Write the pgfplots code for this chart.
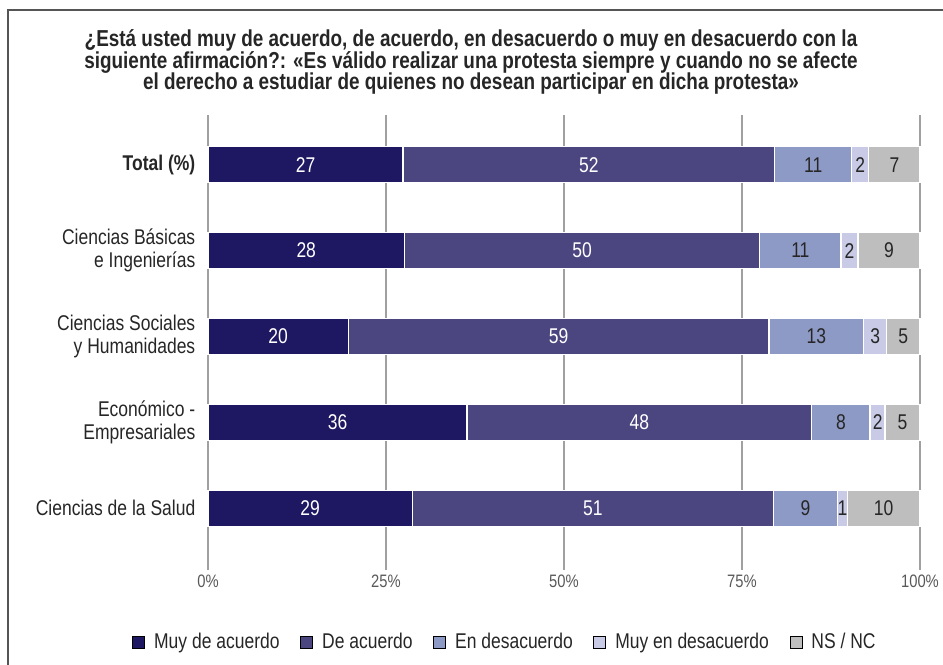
\documentclass[border=0pt]{standalone}
\usepackage{fontspec}
\setmainfont{Liberation Sans}[FakeStretch=0.82]
\usepackage{pgfplots}
\usepackage{pgfplotstable}
\pgfplotsset{compat=1.18}

\definecolor{c1}{HTML}{1E1762}
\definecolor{c2}{HTML}{4B4680}
\definecolor{c3}{HTML}{8E9AC6}
\definecolor{c4}{HTML}{C8CAE6}
\definecolor{c5}{HTML}{BEBEBE}
\definecolor{gridc}{HTML}{A0A0A0}
\definecolor{txt}{HTML}{262626}
\definecolor{tickc}{HTML}{595959}
\definecolor{framec}{HTML}{555555}

% share of each answer (%), one row per group, 0 = total
\pgfplotstableread{
y a    b    c    d   e
0 27.4 52.2 10.8 2.4 7.2
1 27.6 49.9 11.4 2.4 8.7
2 19.7 59.1 13.3 3.2 4.7
3 36.4 48.4 8.2  2.1 4.9
4 28.7 50.7 9.0  1.4 10.2
}\shares
% running totals (bar ends)
\pgfplotstablecreatecol[create col/expr={\thisrow{a}+\thisrow{b}}]{ab}\shares
\pgfplotstablecreatecol[create col/expr={\thisrow{ab}+\thisrow{c}}]{abc}\shares
\pgfplotstablecreatecol[create col/expr={\thisrow{abc}+\thisrow{d}}]{abcd}\shares
\pgfplotstablecreatecol[create col/expr={\thisrow{abcd}+\thisrow{e}}]{abcde}\shares
% middle of each segment, for the labels
\pgfplotstablecreatecol[create col/expr={\thisrow{a}/2}]{ma}\shares
\pgfplotstablecreatecol[create col/expr={\thisrow{a}+\thisrow{b}/2}]{mb}\shares
\pgfplotstablecreatecol[create col/expr={\thisrow{ab}+\thisrow{c}/2}]{mc}\shares
\pgfplotstablecreatecol[create col/expr={\thisrow{abc}+\thisrow{d}/2}]{md}\shares
\pgfplotstablecreatecol[create col/expr={\thisrow{abcd}+\thisrow{e}/2}]{me}\shares

\pgfplotsset{
  seg/.style={xbar, bar width=27pt, bar shift=0pt, draw=white, line width=1pt, fill=#1, forget plot},
  lab/.style={draw=none, mark=none, forget plot, point meta=explicit,
    nodes near coords={\pgfmathprintnumber[fixed,precision=0,assume math mode=true]{\pgfplotspointmeta}},
    every node near coord/.append style={anchor=center, text=#1, font=\fontsize{16}{18}\selectfont}},
}

\begin{document}
\begin{tikzpicture}
\begin{axis}[
  scale only axis, width=534pt, height=341.25pt,
  xmin=0, xmax=100, ymin=-0.58, ymax=4.72, y dir=reverse,
  xtick={0,25,50,75,100}, xticklabels={0\%,25\%,50\%,75\%,100\%},
  ytick={0,...,4},
  yticklabels={{\textbf{Total (\%)}},{Ciencias Básicas\\e Ingenierías},{Ciencias Sociales\\y Humanidades},{Económico -\\Empresariales},{Ciencias de la Salud}},
  yticklabel style={align=right, font=\fontsize{16}{17.5}\selectfont, text=txt, xshift=-6pt},
  xticklabel style={font=\fontsize{13.5}{16}\selectfont, text=tickc},
  major tick length=0pt,
  axis line style={draw=none},
  xmajorgrids, major grid style={gridc, line width=1.1pt},
  legend columns=5,
  legend image code/.code={\fill[#1] (0pt,-4.5pt) rectangle (9pt,4.5pt); \path (14pt,0pt);},
  legend style={draw=none, fill=none, inner sep=0pt, anchor=west,
    at={(axis description cs:-0.1067,-0.158)},
    font=\fontsize{16}{18}\selectfont, text=txt,
    /tikz/every even column/.append style={column sep=13.5pt}},
  clip=false,
]
\addplot[seg=c5] table[x=abcde, y=y] {\shares};
\addplot[seg=c4] table[x=abcd, y=y] {\shares};
\addplot[seg=c3] table[x=abc, y=y] {\shares};
\addplot[seg=c2] table[x=ab, y=y] {\shares};
\addplot[seg=c1] table[x=a, y=y] {\shares};

\addplot[lab=white] table[x=ma, y=y, meta=a] {\shares};
\addplot[lab=white] table[x=mb, y=y, meta=b] {\shares};
\addplot[lab=txt] table[x=mc, y=y, meta=c] {\shares};
\addplot[lab=txt] table[x=md, y=y, meta=d] {\shares};
\addplot[lab=txt] table[x=me, y=y, meta=e] {\shares};

\addlegendimage{fill=c1}\addlegendentry{Muy de acuerdo}
\addlegendimage{fill=c2}\addlegendentry{De acuerdo}
\addlegendimage{fill=c3}\addlegendentry{En desacuerdo}
\addlegendimage{fill=c4}\addlegendentry{Muy en desacuerdo}
\addlegendimage{fill=c5}\addlegendentry{NS / NC}

\coordinate (SW) at (axis description cs:0,0);
\coordinate (NW) at (axis description cs:0,1);
\coordinate (NE) at (axis description cs:1,1);
\coordinate (T) at (axis description cs:0.5,1);
\end{axis}

\node[align=center, font=\bfseries\fontsize{17.3}{16.3}\selectfont, text=txt]
  at ([xshift=-69.75pt, yshift=39.75pt]T)
  {¿Está usted muy de acuerdo, de acuerdo, en desacuerdo o muy en desacuerdo con la\\
   siguiente afirmación?: «Es válido realizar una protesta siempre y cuando no se afecte\\
   el derecho a estudiar de quienes no desean participar en dicha protesta»};

\draw[framec, line width=1.5pt] ([xshift=-150pt, yshift=-420pt]NW) -- ([xshift=-150pt, yshift=78.75pt]NW) -- ([xshift=17.25pt, yshift=78.75pt]NE);

\pgfresetboundingbox
\path[use as bounding box] ([xshift=-156pt, yshift=-71.25pt]SW) rectangle ([xshift=17.25pt, yshift=86.25pt]NE);
\end{tikzpicture}
\end{document}
